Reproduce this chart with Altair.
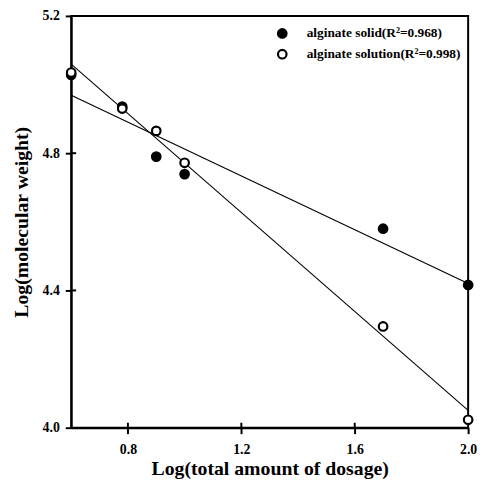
import altair as alt
import pandas as pd

x_vals = [0.6, 0.78, 0.9, 1.0, 1.7, 2.0]
solid_vals = [5.028, 4.936, 4.79, 4.739, 4.58, 4.416]
solution_vals = [5.035, 4.93, 4.865, 4.772, 4.295, 4.023]
series_names = ["alginate solid(R²=0.968)", "alginate solution(R²=0.998)"]
x_ticks = [0.8, 1.2, 1.6, 2.0]
y_ticks = [4.0, 4.4, 4.8, 5.2]

rows = []
for x, y in zip(x_vals, solid_vals):
    rows.append({"x": x, "y": y, "series": series_names[0]})
for x, y in zip(x_vals, solution_vals):
    rows.append({"x": x, "y": y, "series": series_names[1]})
df = pd.DataFrame(rows)

FONT = "Liberation Serif"

xscale = alt.Scale(domain=[0.6, 2.0], nice=False, zero=False)
yscale = alt.Scale(domain=[4.0, 5.2], nice=False, zero=False)

base = alt.Chart(df)

lines = base.transform_regression(
    "x", "y", groupby=["series"], extent=[0.6, 2.0]
).mark_line(color="black", strokeWidth=1.1).encode(
    x=alt.X("x:Q", scale=xscale),
    y=alt.Y("y:Q", scale=yscale),
    detail="series:N",
)

points = base.mark_point(size=75, strokeWidth=2.2, opacity=1, stroke="black", clip=False).encode(
    x=alt.X("x:Q", scale=xscale,
            axis=alt.Axis(values=x_ticks, format=".1f", title="Log(total amount of dosage)",
                          titlePadding=2, labelPadding=9, labelFlush=False, labelBound=False)),
    y=alt.Y("y:Q", scale=yscale,
            axis=alt.Axis(values=y_ticks, format=".1f", title="Log(molecular weight)",
                          titlePadding=11, labelPadding=6, labelFlush=False)),
    fill=alt.Fill("series:N",
                  scale=alt.Scale(domain=series_names, range=["black", "white"]),
                  legend=alt.Legend(title=None, orient="none", legendX=207, legendY=11,
                                    symbolType="circle", symbolSize=75,
                                    symbolStrokeColor="black", symbolStrokeWidth=2.2,
                                    labelFont=FONT, labelFontSize=13.5, labelFontWeight="bold",
                                    labelColor="black", labelOffset=18, rowPadding=3,
                                    labelLimit=300, symbolOpacity=1)),
    order=alt.Order("series:N"),
)

inner_y = alt.Chart(pd.DataFrame({"v": y_ticks[1:3]})).mark_rule(color="black", strokeWidth=2).encode(
    y=alt.Y("v:Q", scale=yscale), x=alt.value(0), x2=alt.value(5)
)
inner_x = alt.Chart(pd.DataFrame({"v": x_ticks[:3]})).mark_rule(color="black", strokeWidth=2).encode(
    x=alt.X("v:Q", scale=xscale), y=alt.value(412), y2=alt.value(417)
)

chart = alt.layer(lines, inner_y, inner_x, points).properties(
    width=402, height=417,
    autosize=alt.AutoSizeParams(type="none"),
    padding={"left": 64, "top": 5, "right": 11, "bottom": 55},
).configure_view(
    stroke="black", strokeWidth=2
).configure_axis(
    domainColor="black", domainWidth=2, tickColor="black", tickWidth=2, tickSize=6,
    labelFont=FONT, labelFontSize=14, labelFontWeight="bold", labelColor="black",
    titleFont=FONT, titleFontSize=20, titleFontWeight="bold", titleColor="black",
    grid=False,
)

chart.save("out.html", embed_options={"renderer": "svg", "actions": False})
